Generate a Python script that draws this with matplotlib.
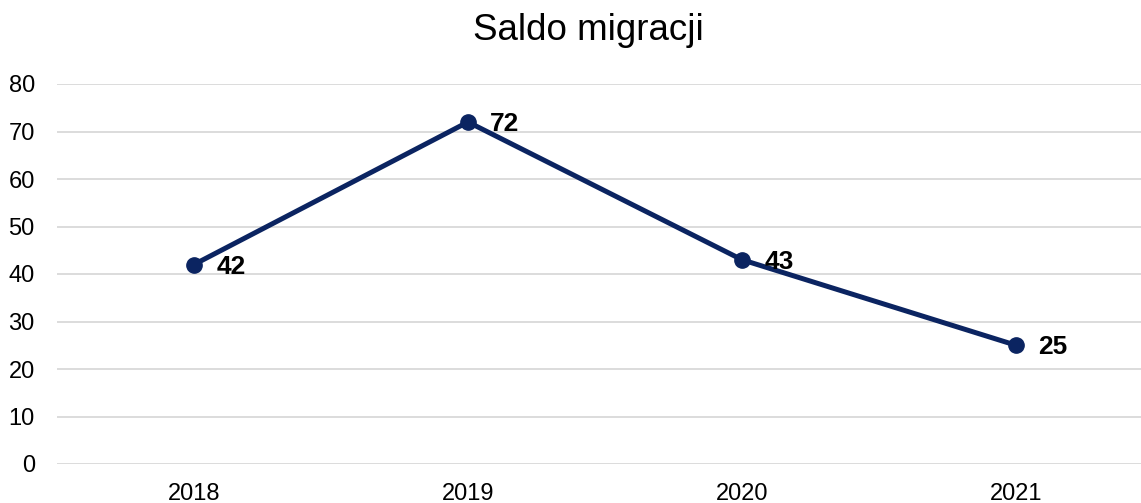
import matplotlib
matplotlib.use("Agg")
import matplotlib.pyplot as plt

years = ["2018", "2019", "2020", "2021"]
saldo = [42, 72, 43, 25]
y_ticks = [0, 10, 20, 30, 40, 50, 60, 70, 80]

plt.rcParams["font.family"] = ["Liberation Sans", "DejaVu Sans"]

LINE = "#0b2461"
GRID = "#d9d9d9"

fig = plt.figure(figsize=(11.41, 5.03), dpi=100)
# axes runs past the right edge like the original export
ax = fig.add_axes([57 / 1141, 1 - 464 / 503, 1096 / 1141, 380 / 503])

x = list(range(len(years)))
ax.plot(x, saldo, color=LINE, linewidth=3.6, marker="o", markersize=11,
        solid_capstyle="round", zorder=3)
for xi, v in zip(x, saldo):
    ax.annotate(str(v), (xi, v), xytext=(16, -1.5), textcoords="offset points",
                ha="left", va="center", fontsize=19, fontweight="bold",
                color="black")

ax.set_xlim(-0.5, len(years) - 0.5)
ax.set_ylim(0, 80)
ax.set_xticks(x)
ax.set_xticklabels(years)
ax.set_yticks(y_ticks)
ax.tick_params(axis="both", length=0, labelsize=17, colors="#000000")
ax.tick_params(axis="x", pad=13.5)
ax.tick_params(axis="y", pad=16)
ax.grid(axis="y", color=GRID, linewidth=1.3)
ax.set_axisbelow(True)
for s in ax.spines.values():
    s.set_visible(False)

fig.text(588 / 1141, 1 - 40 / 503, "Saldo migracji", ha="center",
         va="baseline", fontsize=26.5)

fig.savefig("out.png", dpi=100)
